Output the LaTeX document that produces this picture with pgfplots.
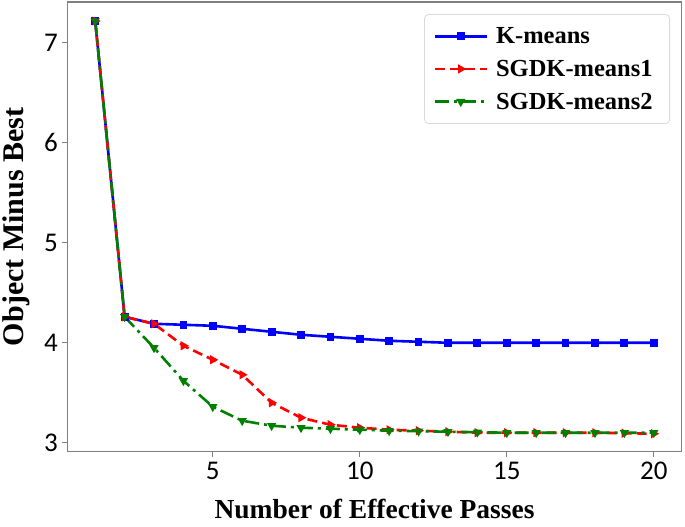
\documentclass[border=0pt]{standalone}
\usepackage{pgfplots}
\pgfplotsset{compat=1.18}
\usepackage{fontspec}
\setmainfont{Liberation Serif}
\newfontfamily\tickfont{Carlito}
\definecolor{kblue}{RGB}{0,0,255}
\definecolor{kred}{RGB}{255,0,0}
\definecolor{kgreen}{RGB}{0,128,0}
\begin{document}
\begin{tikzpicture}
\useasboundingbox (-67.3pt,-75.3pt) rectangle (617.7pt,451.7pt);
\begin{axis}[
  at={(0pt,0pt)}, anchor=south west,
  scale only axis, width=614.4pt, height=449.7pt,
  xmin=0.05, xmax=20.95, ymin=2.91, ymax=7.41,
  xtick={5,10,15,20}, ytick={3,4,5,6,7},
  tick align=outside, major tick length=5pt,
  tick style={gray, line width=1pt},
  xtick pos=bottom, ytick pos=left,
  axis line style={gray, line width=1.3pt},
  /pgf/number format/assume math mode=true,
  ticklabel style={font=\tickfont\fontsize{27}{27}\selectfont},
  xticklabel style={yshift=-2pt},
  yticklabel style={xshift=-1pt},
  xlabel={\textbf{Number of Effective Passes}},
  ylabel={\textbf{Object Minus Best}},
  xlabel style={font=\fontsize{27.5}{28}\selectfont, at={(axis description cs:0.5,0)}, anchor=base, yshift=-67pt},
  ylabel style={font=\fontsize{30}{30}\selectfont, at={(axis description cs:0,0.5)}, anchor=base, yshift=44pt},
  legend style={at={(0.981,0.973)}, anchor=north east, draw=gray!30, line width=0.8pt, rounded corners=4pt,
    font=\fontsize{24.5}{24.5}\selectfont\bfseries, row sep=11pt, inner xsep=9pt, inner ysep=11pt,
    nodes={inner xsep=8pt}},
  legend cell align=left,
  legend image code/.code={
    \draw[mark repeat=2,mark phase=2,#1] plot coordinates {(0pt,0pt) (26pt,0pt) (52pt,0pt)};
  },
]
\addplot[kblue, line width=2.6pt, mark=square*, mark size=2.6pt, mark options={solid}] coordinates {
(1,7.22) (2,4.26) (3,4.19) (4,4.18) (5,4.17) (6,4.14) (7,4.11) (8,4.08) (9,4.06) (10,4.04)
(11,4.02) (12,4.01) (13,4.00) (14,4.00) (15,4.00) (16,4.00) (17,4.00) (18,4.00) (19,4.00) (20,4.00)};
\addlegendentry{K-means}
\addplot[kred, line width=2.6pt, dash pattern=on 10pt off 5pt, mark=triangle*, mark size=2.8pt, mark options={solid, rotate=-90}] coordinates {
(1,7.22) (2,4.26) (3,4.19) (4,3.97) (5,3.83) (6,3.68) (7,3.40) (8,3.25) (9,3.18) (10,3.15)
(11,3.13) (12,3.12) (13,3.11) (14,3.10) (15,3.10) (16,3.10) (17,3.10) (18,3.10) (19,3.095) (20,3.09)};
\addlegendentry{SGDK-means1}
\addplot[kgreen, line width=2.6pt, dash pattern=on 14pt off 5pt on 3pt off 5pt, mark=triangle*, mark size=2.8pt, mark options={solid, rotate=180}] coordinates {
(1,7.22) (2,4.26) (3,3.95) (4,3.62) (5,3.36) (6,3.22) (7,3.17) (8,3.15) (9,3.14) (10,3.13)
(11,3.12) (12,3.115) (13,3.11) (14,3.105) (15,3.10) (16,3.10) (17,3.10) (18,3.10) (19,3.10) (20,3.10)};
\addlegendentry{SGDK-means2}
\end{axis}
\end{tikzpicture}
\end{document}
